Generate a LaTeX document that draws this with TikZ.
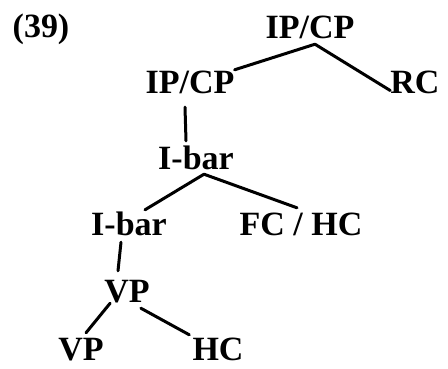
\documentclass[tikz,border=0pt]{standalone}
\usepackage{fontspec}
\setmainfont{Liberation Serif}
\begin{document}
\begin{tikzpicture}[x=1pt,y=-1pt,
	lab/.style={font=\fontsize{34}{34}\selectfont\bfseries,inner sep=0pt,text height=23pt,text depth=0pt,anchor=base},
	branch/.style={line width=3pt,line cap=round}]
	\useasboundingbox (0,0) rectangle (448,368) ;
	\node[lab] (num) at (41,37) {(39)} ;
	\node[lab] (top) at (310,38) {IP/CP} ;
	\node[lab] (ipcp) at (190,93) {IP/CP} ;
	\node[lab] (rc) at (415,93) {RC} ;
	\node[lab] (ibar) at (196,169) {I-bar} ;
	\node[lab] (ibarl) at (129,235) {I-bar} ;
	\node[lab] (fchc) at (301,235) {FC / HC} ;
	\node[lab] (vp) at (127,302) {VP} ;
	\node[lab] (vpl) at (81,360) {VP} ;
	\node[lab] (hc) at (218,360) {HC} ;
	\draw[branch] ([xshift=5pt,yshift=-6pt]top.south) -- (ipcp.north east)
	([xshift=5pt,yshift=-6pt]top.south) -- (rc.200) ;
	\draw[branch] ([xshift=-5pt,yshift=-14pt]ipcp.south) -- ([xshift=-10pt,yshift=5pt]ibar.north) ;
	\draw[branch] ([xshift=8pt,yshift=-5pt]ibar.south) -- ([xshift=16pt,yshift=2pt]ibarl.north)
	([xshift=8pt,yshift=-5pt]ibar.south) -- ([xshift=-4pt,yshift=4pt]fchc.north) ;
	\draw[branch] ([xshift=-8pt,yshift=-7pt]ibarl.south) -- ([xshift=-9pt,yshift=8pt]vp.north) ;
	\draw[branch] ([xshift=6pt,yshift=-1pt]vp.south west) -- ([xshift=5pt,yshift=4pt]vpl.north)
	([xshift=-9pt,yshift=-6pt]vp.south east) -- ([xshift=-3pt,yshift=2pt]hc.north west) ;
\end{tikzpicture}
\end{document}
